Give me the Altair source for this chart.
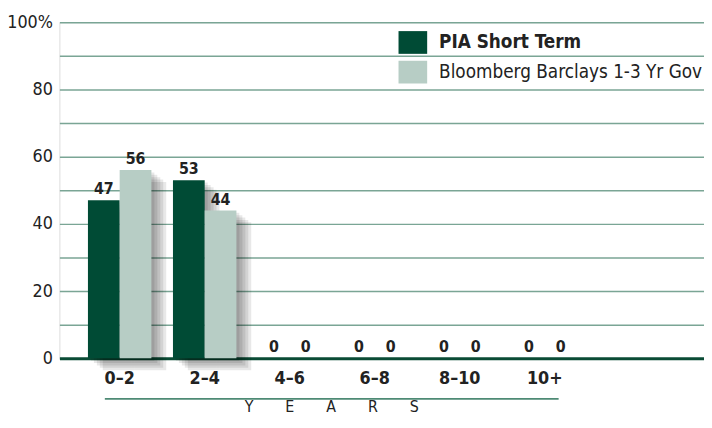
import altair as alt
import pandas as pd

categories = ["0–2", "2–4", "4–6", "6–8", "8–10", "10+"]
series_names = ["PIA Short Term", "Bloomberg Barclays 1-3 Yr Gov"]
pia_values = [47, 53, 0, 0, 0, 0]
bench_values = [56, 44, 0, 0, 0, 0]
y_ticks = [0, 10, 20, 30, 40, 50, 60, 70, 80, 90, 100]
colors = ["#004b35", "#b7cdc5"]
x_title = "\u2003\u2003\u2005".join(list("YEARS"))

rows = []
for i, c in enumerate(categories):
    rows.append({"cat": c, "series": series_names[0], "value": pia_values[i]})
    rows.append({"cat": c, "series": series_names[1], "value": bench_values[i]})
df = pd.DataFrame(rows)

FONT = "Liberation Sans Narrow, DejaVu Sans Condensed, Open Sans, sans-serif"

xscale = alt.Scale(domain=categories, paddingInner=0, paddingOuter=0.7907, align=0.132)
yscale = alt.Scale(domain=[0, 100], nice=False)

x_axis = alt.Axis(title=x_title,
                  labelAngle=0, labelFontSize=18, labelFontWeight="bold",
                  labelFont=FONT, labelColor="#222222", labelPadding=11,
                  ticks=False, domain=False,
                  titleFontSize=16, titleFontWeight="normal", titleFont=FONT,
                  titleColor="#222222", titleBaseline="top", titleY=41,
                  titleX=275, titleAlign="center", titleAnchor="start")
y_axis = alt.Axis(values=y_ticks, title=None, ticks=False, domain=False,
                  labelExpr="datum.value % 20 == 0 ? (datum.value == 100 ? '100%' : datum.label) : ''",
                  labelFontSize=18, labelFont=FONT, labelColor="#222222",
                  labelPadding=7, grid=True,
                  gridColor={"condition": {"test": "datum.value === 0", "value": "#0a4b35"},
                             "value": "#7aa595"},
                  gridWidth={"condition": {"test": "datum.value === 0", "value": 3},
                             "value": 1.5})


def x_enc():
    return alt.X("cat:N", scale=xscale, axis=x_axis)


def y_enc():
    return alt.Y("value:Q", scale=yscale, axis=y_axis)


def xoff_enc(shift=0):
    return alt.XOffset("series:N", sort=series_names,
                       scale=alt.Scale(type="band", domain=series_names, paddingOuter=0.34,
                                       paddingInner=0, range=[shift, 86 + shift]))


base = alt.Chart(df)

shadows = []
for k in [3, 6, 9, 12, 15]:
    shadows.append(
        base.transform_filter("datum.value > 0")
        .mark_bar(color="#000000", opacity=0.09, yOffset=k * 0.8)
        .encode(x=x_enc(), xOffset=xoff_enc(k), y=y_enc())
    )

bars = base.mark_bar().encode(
    x=x_enc(),
    xOffset=xoff_enc(0),
    y=y_enc(),
    color=alt.Color("series:N", sort=series_names,
                    scale=alt.Scale(domain=series_names, range=colors),
                    legend=alt.Legend(title=None, orient="none", legendX=346, legendY=9,
                                      symbolType="M-1.26,-1L1.26,-1L1.26,1L-1.26,1Z",
                                      symbolSize=529, symbolStrokeWidth=0, symbolOpacity=1,
                                      labelFontSize=19, labelFont=FONT, labelColor="#222222",
                                      labelOffset=15, rowPadding=7, padding=0, labelLimit=400,
                                      labelFontWeight={"expr": "datum.label === 'PIA Short Term' ? 'bold' : 'normal'"})),
)

labels = base.mark_text(font=FONT, fontSize=16, fontWeight="bold", color="#222222",
                        baseline="bottom", dy=-3).encode(
    x=x_enc(),
    xOffset=xoff_enc(0),
    y=y_enc(),
    text="value:Q",
)

rule_df = pd.DataFrame({"a": [categories[0]], "b": [categories[-1]]})
underline = alt.Chart(rule_df).mark_rule(color="#4e8a74", strokeWidth=2,
                                         xOffset=-15, x2Offset=14).encode(
    x=alt.X("a:N", scale=xscale, axis=x_axis),
    x2="b:N",
    y=alt.value(381),
)

chart = alt.layer(*shadows, bars, labels, underline).resolve_scale(
    xOffset="independent"
).properties(
    width=652, height=340,
    autosize=alt.AutoSizeParams(type="none"),
    padding={"left": 52, "top": 12, "right": 0, "bottom": 60},
).configure_view(strokeWidth=0, stroke="transparent").configure(background="white")

chart.save("out.html", embed_options={"renderer": "svg", "actions": False})
